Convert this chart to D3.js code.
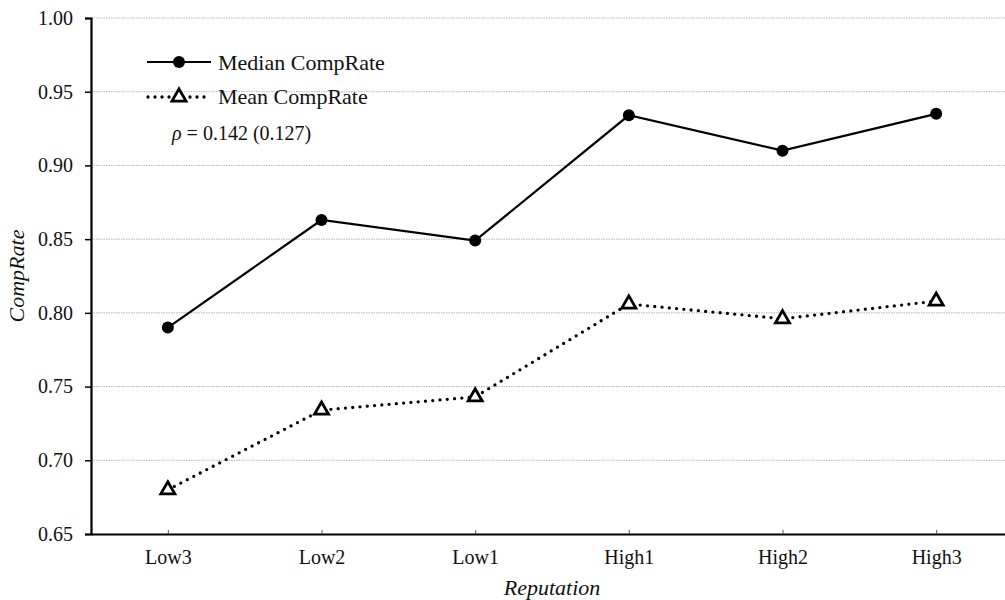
<!DOCTYPE html>
<html>
<head>
<meta charset="utf-8">
<script src="https://cdn.jsdelivr.net/npm/d3@7"></script>
<style>
    body { margin: 0; background: #fff; }
    svg text { font-family: "Liberation Serif", "Times New Roman", serif !important; fill: #111; }
</style>
</head>
<body>
<div id="chart"></div>
<script>
// Data
const categories = ['Low3', 'Low2', 'Low1', 'High1', 'High2', 'High3'];
const medianValues = [0.790, 0.863, 0.849, 0.934, 0.910, 0.935];
const meanValues = [0.680, 0.734, 0.743, 0.806, 0.796, 0.808];
const yTicks = [0.65, 0.70, 0.75, 0.80, 0.85, 0.90, 0.95, 1.00];

const width = 1005;
const height = 600;
const margin = {left: 91, top: 18, right: -8, bottom: 66};

const svg = d3.select('#chart')
    .append('svg')
    .attr('width', width)
    .attr('height', height);

const x = d3.scalePoint()
    .domain(categories)
    .range([margin.left, width - margin.right])
    .padding(0.5);

const y = d3.scaleLinear()
    .domain([0.65, 1.00])
    .range([height - margin.bottom, margin.top]);

// Gridlines
svg.append('g')
    .selectAll('line')
    .data(yTicks.slice(1))
    .enter().append('line')
    .attr('x1', margin.left)
    .attr('x2', width)
    .attr('y1', d => y(d))
    .attr('y2', d => y(d))
    .attr('stroke', '#b5b5b5')
    .attr('stroke-width', 1)
    .attr('stroke-dasharray', '1.5,1');

// Y axis
const yAxis = svg.append('g')
    .attr('transform', `translate(${margin.left},0)`)
    .call(d3.axisLeft(y).tickValues(yTicks).tickFormat(d3.format('.2f')).tickSize(6).tickPadding(12));
yAxis.select('.domain').attr('stroke', '#000').attr('stroke-width', 2.2);
yAxis.selectAll('.tick line').attr('stroke', '#000').attr('stroke-width', 1.5);
yAxis.selectAll('text').style('font-size', '20px').style('fill', '#111');

// X axis
const xAxis = svg.append('g')
    .attr('transform', `translate(0,${y(0.65)})`)
    .call(d3.axisBottom(x).tickSizeInner(-4).tickSizeOuter(0).tickPadding(16));
xAxis.select('.domain').attr('stroke', '#000').attr('stroke-width', 2.2);
xAxis.selectAll('.tick line').attr('stroke', '#555').attr('stroke-width', 1);
xAxis.selectAll('text').style('font-size', '20px').style('fill', '#111');

// Axis titles
svg.append('text')
    .attr('x', (margin.left + width - margin.right) / 2)
    .attr('y', 595)
    .attr('text-anchor', 'middle')
    .style('font-size', '22px')
    .style('font-style', 'italic')
    .text('Reputation');

svg.append('text')
    .attr('transform', `translate(24,${(y(0.65) + y(1.0)) / 2}) rotate(-90)`)
    .attr('text-anchor', 'middle')
    .style('font-size', '22px')
    .style('font-style', 'italic')
    .text('CompRate');

const line = d3.line()
    .x((d, i) => x(categories[i]))
    .y(d => y(d));

// Median series
svg.append('path')
    .datum(medianValues)
    .attr('d', line)
    .attr('fill', 'none')
    .attr('stroke', '#000')
    .attr('stroke-width', 2.2);

svg.append('g')
    .selectAll('circle')
    .data(medianValues)
    .enter().append('circle')
    .attr('cx', (d, i) => x(categories[i]))
    .attr('cy', d => y(d))
    .attr('r', 6)
    .attr('fill', '#000');

// Mean series
svg.append('path')
    .datum(meanValues)
    .attr('d', line)
    .attr('fill', 'none')
    .attr('stroke', '#000')
    .attr('stroke-width', 3.3)
    .attr('stroke-linecap', 'round')
    .attr('stroke-dasharray', '0,7.3');

const tri = d3.symbol().type(d3.symbolTriangle).size(85);

svg.append('g')
    .selectAll('path')
    .data(meanValues)
    .enter().append('path')
    .attr('d', tri)
    .attr('transform', (d, i) => `translate(${x(categories[i])},${y(d)})`)
    .attr('fill', '#fff')
    .attr('stroke', '#000')
    .attr('stroke-width', 2.8);

// Legend
const legend = svg.append('g');
legend.append('line')
    .attr('x1', 147).attr('x2', 211)
    .attr('y1', 62).attr('y2', 62)
    .attr('stroke', '#000').attr('stroke-width', 2.2);
legend.append('circle')
    .attr('cx', 179).attr('cy', 62).attr('r', 6).attr('fill', '#000');
legend.append('text')
    .attr('x', 218).attr('y', 70)
    .style('font-size', '22px')
    .text('Median CompRate');

legend.append('line')
    .attr('x1', 148).attr('x2', 210)
    .attr('y1', 97).attr('y2', 97)
    .attr('stroke', '#000').attr('stroke-width', 3.3)
    .attr('stroke-linecap', 'round')
    .attr('stroke-dasharray', '0,7');
legend.append('path')
    .attr('d', tri)
    .attr('transform', 'translate(179,97)')
    .attr('fill', '#fff')
    .attr('stroke', '#000')
    .attr('stroke-width', 2.8);
legend.append('text')
    .attr('x', 218).attr('y', 104)
    .style('font-size', '22px')
    .text('Mean CompRate');

const rho = legend.append('text')
    .attr('x', 172).attr('y', 140)
    .style('font-size', '20px');
rho.append('tspan').style('font-style', 'italic').text('ρ');
rho.append('tspan').text(' = 0.142 (0.127)');
</script>
</body>
</html>
